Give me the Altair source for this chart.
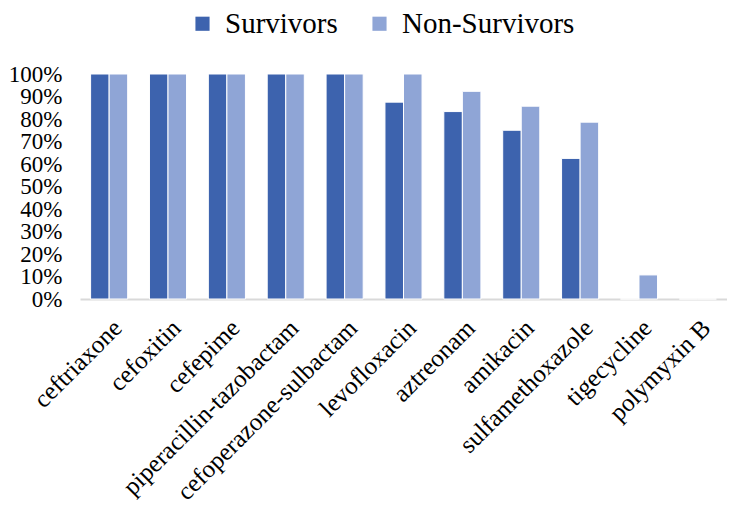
import altair as alt
import pandas as pd

categories = ["ceftriaxone", "cefoxitin", "cefepime", "piperacillin-tazobactam",
              "cefoperazone-sulbactam", "levofloxacin", "aztreonam", "amikacin",
              "sulfamethoxazole", "tigecycline", "polymyxin B"]
survivors = [1.00, 1.00, 1.00, 1.00, 1.00, 0.875, 0.833, 0.75, 0.625, 0.0, 0.0]
non_survivors = [1.00, 1.00, 1.00, 1.00, 1.00, 1.00, 0.923, 0.857, 0.786, 0.107, 0.0]
series = ["Survivors", "Non-Survivors"]
colors = ["#3D63AE", "#8FA5D6"]

rows = []
for c, s, n in zip(categories, survivors, non_survivors):
    rows.append({"drug": c, "group": series[0], "value": s})
    rows.append({"drug": c, "group": series[1], "value": n})
df = pd.DataFrame(rows)

FONT = "Liberation Serif"

chart = alt.Chart(df).mark_bar(stroke="white", strokeWidth=1).encode(
    x=alt.X("drug:N", sort=categories, title=None,
            scale=alt.Scale(paddingInner=0.37, paddingOuter=0.18),
            axis=alt.Axis(labelAngle=-45, labelFontSize=25, labelFont=FONT,
                          labelColor="black", ticks=False, domainColor="#D9D9D9",
                          domainWidth=2, labelPadding=16, labelLimit=400,
                          labelOverlap=False)),
    xOffset=alt.XOffset("group:N", sort=series),
    y=alt.Y("value:Q", title=None,
            scale=alt.Scale(domain=[0, 1]),
            axis=alt.Axis(format=".0%", values=[i / 10 for i in range(11)],
                          labelFontSize=23, labelFont=FONT, labelColor="black",
                          domain=False, ticks=False, grid=False, labelPadding=18,
                          labelOverlap=False)),
    color=alt.Color("group:N", sort=series,
                    scale=alt.Scale(domain=series, range=colors),
                    legend=alt.Legend(title=None, orient="none", direction="horizontal",
                                      legendX=108, legendY=-65,
                                      labelFont=FONT, labelFontSize=29, labelColor="black",
                                      labelLimit=400,
                                      symbolType="square", symbolSize=200,
                                      symbolStrokeWidth=0, labelOffset=8,
                                      columnPadding=27)),
).properties(
    width=647, height=225,
    autosize=alt.AutoSizeParams(type="none"),
    padding={"left": 72, "top": 66, "right": 0, "bottom": 207},
).configure_view(stroke=None).configure_legend(
    labelFont=FONT, labelFontSize=29, labelColor="black"
)

chart.save("out.html", embed_options={"renderer": "svg", "actions": False})
